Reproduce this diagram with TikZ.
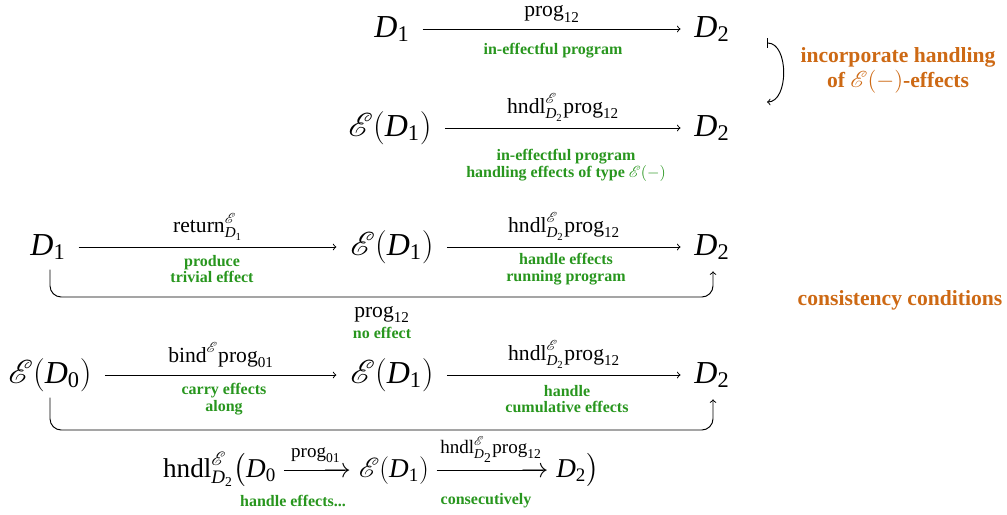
\documentclass[tikz,border=0pt]{standalone}
\usepackage{amsmath}
\usepackage[no-math]{fontspec}
\setmainfont{Liberation Serif}
\usepackage{mathrsfs}
\usetikzlibrary{calc}
\definecolor{grn}{RGB}{40,150,30}
\definecolor{org}{RGB}{205,105,20}
\newcommand{\Dd}[1]{\textit{D}_{\text{#1}}}
\newcommand{\Ef}{\mathscr{E}}
\newcommand{\pg}[1]{\text{prog}_{\text{#1}}}
\newcommand{\hn}{\text{hndl}^{\Ef}_{\Dd{2}}}
\newcommand{\xra}[2]{\mathrel{\mathop{\hbox to #1{\vrule width 0pt height 7pt\leaders\vrule height 4.6pt depth -3.95pt\hfill$\mkern-14mu\mathord\rightarrow$}}\limits^{#2\,}}}
\begin{document}
\begin{tikzpicture}[x=0.625pt,y=-0.625pt,
  obj/.style={inner sep=0pt, font=\fontsize{20}{24}\selectfont, text height=15pt, text depth=5pt},
  lab/.style={font=\fontsize{13.5}{16}\selectfont, inner sep=0pt, above=4pt, midway},
  labfree/.style={font=\fontsize{13.5}{16}\selectfont, inner sep=0pt, anchor=base},
  note/.style={text=grn, font=\fontsize{10}{10.5}\selectfont\bfseries, align=center, inner sep=0pt},
  rem/.style={text=org, font=\fontsize{13.5}{15.6}\selectfont\bfseries, align=center, inner sep=0pt},
  arr/.style={->, line width=0.6pt, shorten <=8pt, shorten >=8.5pt},
  loopline/.style={->, line width=0.6pt, rounded corners=7pt, shorten <=4pt, shorten >=5pt}
]
\useasboundingbox (0,0) rectangle (1007,514);

% row 1
\node[obj] (a1) at (392,29) {$\Dd{1}$};
\node[obj] (b1) at (712,29) {$\Dd{2}$};
\draw[arr] (a1) -- (b1) node[lab] {$\pg{12}$};
\node[note] (n1) at (553,51) {in-effectful program};

% row 2
\node[obj] (a2) at (390,128) {$\Ef(\Dd{1})$};
\node[obj] (b2) at (712,128) {$\Dd{2}$};
\draw[arr] (a2) -- (b2) node[lab] {$\hn\pg{12}$};
\node[note] (n2) at (566,165) {in-effectful program\\handling effects of type {\mdseries$\Ef(-)$}};

% incorporate arrow
\coordinate (c1) at (767,43);
\coordinate (c2) at (767,102);
\draw[|->, line width=0.6pt] (c1) .. controls (789,43) and (789,102) .. (c2);
\node[rem] (r1) at (898,70) {incorporate handling\\of {\mdseries$\Ef(-)$}-effects};
\node[rem] (r2) at (900,300) {consistency conditions};

% row 3
\node[obj] (a3) at (48,247) {$\Dd{1}$};
\node[obj] (b3) at (392,247) {$\Ef(\Dd{1})$};
\node[obj] (c3) at (712,247) {$\Dd{2}$};
\draw[arr] (a3) -- (b3) node[lab] {$\text{return}^{\Ef}_{\Dd{1}}$};
\draw[arr] (b3) -- (c3) node[lab] {$\hn\pg{12}$};
\node[note] (n3) at (212,269) {produce\\trivial effect};
\node[note] (n4) at (566,269) {handle effects\\running program};
\coordinate (m3) at (382,297);
\draw[loopline] ($(a3.south)+(2,0)$) |- (m3) -| ($(c3.south)+(1,0)$);
\node[labfree] (p3) at (382,317) {$\pg{12}$};
\node[note] (n5) at (382,333) {no effect};

% row 4
\node[obj] (a4) at (50,375) {$\Ef(\Dd{0})$};
\node[obj] (b4) at (392,375) {$\Ef(\Dd{1})$};
\node[obj] (c4) at (712,375) {$\Dd{2}$};
\draw[arr] (a4) -- (b4) node[lab] {$\text{bind}^{\Ef}\pg{01}$};
\draw[arr] (b4) -- (c4) node[lab] {$\hn\pg{12}$};
\node[note] (n6) at (224,399) {carry effects\\along};
\node[note] (n7) at (567,399) {handle\\cumulative effects};
\coordinate (m4) at (382,430);
\draw[loopline] (a4.south) |- (m4) -| ($(c4.south)+(1,0)$);

% row 5
\node[anchor=base, inner sep=0pt, font=\fontsize{17}{20}\selectfont] (f) at (381,477)
  {$\hn\bigl(\Dd{0} \xra{42pt}{\pg{01}} \Ef(\Dd{1}) \xra{70pt}{\hn\pg{12}} \Dd{2}\bigr)$};
\node[note] (n8) at (293,501) {handle effects...};
\node[note] (n9) at (486,501) {consecutively};
\end{tikzpicture}
\end{document}
